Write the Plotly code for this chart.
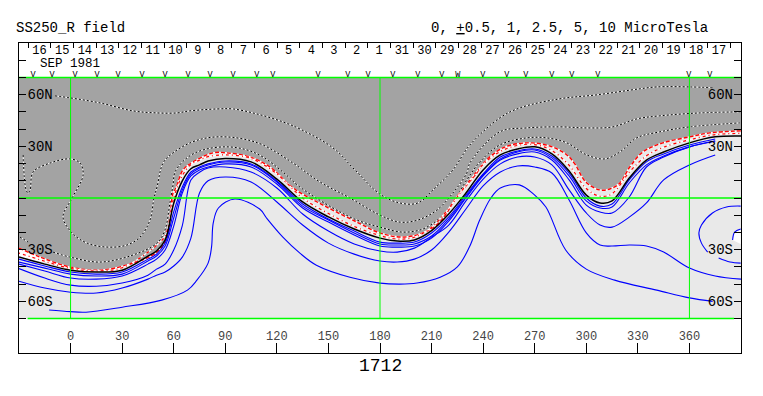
import plotly.graph_objects as go

MONO = "Liberation Mono"

grid_lon = [-30,-15,0,15,30,45,50,55,60,65,70,75,80,90,105,120,135,150,165,180,190,200,
            210,220,230,240,250,260,270,280,290,300,308,315,325,335,345,360,375,390]
neutral_lat = [-34.3,-38.4,-41.9,-43,-41.9,-33.7,-30.8,-24.4,-3,10,17,19.2,21.5,23,21,11,-2.3,-11,-18,-23.3,-25,-24.4,
               -19,-9.3,2.9,16.3,25,28.5,29.7,25.6,15.7,1.7,-2.9,-1.7,11.6,22,26.7,32,35.5,36]
blue1_lat = [-35.5,-39.5,-43,-44.2,-43,-35.5,-32.6,-26.2,-8.1,6.4,15.1,18,19.8,21.5,19.8,9.9,-3.5,-12.2,-19.2,-25.6,-26.2,-25.6,
             -20.3,-11,1.7,14,23.8,27.3,28.5,24.4,14.5,0,-4.7,-3.5,10.5,21,25.6,30.8,34.3,None]
blue2_lat = [-37.2,-40.7,-44.2,-45.3,-44.2,-36.6,-33.7,-27.9,-11.6,4.7,14,17.4,19.2,20.9,19.2,9.3,-4.7,-12.8,-20.3,-26.7,-27.3,-26.7,
             -22.1,-12.2,0.6,13.4,22.7,26.7,27.9,23.3,12.8,-1.7,-5.8,-5.2,8.7,19.2,24.4,29.7,33.1,None]
blue3_lat = [-38.4,-42.4,-46.5,-47.1,-45.3,-38.4,-35.5,-30.2,-16.3,2.9,12.8,16.3,18,19.8,18,8.1,-5.8,-14,-21.5,-27.9,-28.5,-27.9,
             -23.3,-13.4,0,12.8,22.1,25.6,26.7,22.1,10.5,-4.1,-8.1,-8.7,0.6,18,23.8,29.7,33.1,None]
blue4_lat = [-41,-46.5,-50.6,-51.2,-49.4,-44.8,-41.3,-38.4,-30.2,-16,10.5,15,17.4,18,15.1,5.8,-9.3,-19.2,-26.7,-30.8,-31.4,-29.1,
             -22.7,-15.7,-1.7,11,19.8,23.8,23.8,19.2,4.7,-8.7,-15.7,-16.9,-11.1,-2.9,10.5,19.2,25,None]
blue5_lat = [-48.3,-52.3,-54.7,-55.2,-52.3,-47.1,-44.8,-43,-39.5,-34.3,-23.3,2.9,10,12.2,9.3,-2.3,-15.7,-26.2,-32.6,-36.6,-37.2,-35.5,
             -30.2,-19.8,-6.4,7,15.1,18.6,18,14.5,-1.2,-20.3,-27.3,-27.9,-27.3,-27.9,-31.4,-40.7,-45.3,-47.1]
blue6_lon = [-12.5,0,9,30,53,68,73.5,80,82,83,86,95.6,110,114,123.5,133.4,143,162.5,180,191.6,201.5,215,225,232,238,244.5,250,261,270,276.5,288,300,316.5,341,360,373.5]
blue6_lat = [-65,-66,-66.3,-63.4,-59.3,-53.5,-47.7,-37.8,-28.5,-14.5,-5.8,-0.6,-6.4,-11.6,-22.7,-32,-39,-46,-49.4,-50,-49.4,-46,-40,-28.5,-12.8,0,5.8,7.6,1.7,-5.2,-30.2,-41.3,-47.7,-53.5,-58,-60]
loop_lon = [389.8,381.6,373.4,367,365.5,367,370.6]
loop_lat = [-4.7,-5.2,-8.7,-15.7,-20.3,-26.2,-31.4]
loop2_lon = [377,383.6,389.8]
loop2_lat = [-34.9,-37.2,-37.8]
loop3_lon = [389.8,386.3,385.1]
loop3_lat = [-18,-19.8,-24.4]

red_inner_lat = [-32,-36.7,-40.9,-42.3,-40.5,-31.5,-27.5,-22,0,13,19.5,22,24,25,23,14,0,-9,-16.5,-21.8,-23.8,-22.8,
                 -17,-6,7.5,19.5,27,30.5,31,27.5,19,5.5,1,2.5,15,24.5,29.5,33.8,36.8,37.5]
edge_lon = [-30,-17.7,-0.3,17.2,36.3,50.3,56.1,57.8,59.6,61.3,65.4,71.2,82.8,91,104.4,116,129.4,146.8,166.6,179.9,193.3,204.9,214.8,224.7,236.3,239.8,251.5,265.4,278.8,288.7,293.3,299.7,307.8,313.7,319.5,325.3,332.9,344.5,360.2,371.8,390]
edge_lat = [-29.1,-34.3,-40.1,-41.9,-37.8,-31.4,-22.7,-12.8,2.9,5.8,16.3,20.9,26.2,26.2,23.8,18,5.8,-4.1,-14,-20.3,-22.7,-20.3,-14,0.6,14.5,19.8,29.1,32,30.2,25,19.8,9.3,4.7,5.2,8.7,18,26.7,32,35.5,37.8,39]

dot1_lon = [-10.2,-0.3,17.2,36.3,50.3,54.9,57.8,59.6,60.8,67.7,77,91,102.6,111.9,123.5,133.4,152.6,166.6,179.9,193.3,204.9,214.8,222.4,230.5,238.1,249.7,265.4,277,288.7,300.3,310.8,319.5,329.3,342.7,360.2,389.2]
dot1_lat = [-31.4,-34.3,-37.2,-33.1,-26.2,-18.6,-2.9,7.6,15.1,23.3,27.9,29.7,27.9,23.8,15.1,6.4,-5.8,-12.8,-16.9,-19.8,-18,-11.6,-2.9,10.5,20.9,30.8,34.9,34.9,32,25,22.7,26.7,34.9,38.4,41.3,43.6]
dot2_lon = [-27.6,-25.9,-24.7,-23.5,-21.8,-11.9,-0.3,5.5,7.3,0.9,-4.4,0.9,9.6,21.2,32.8,40.4,46.2,48.5,50.3,53.8,59.6,69.5,79.4,89.8,100.3,111.9,129.4,145.1,162.5,179.9,191.6,202,213.1,222.4,230.5,232.3,249.7,265.4,284.6,300.3,315.4,329.3,342.7,366,389.2]
dot2_lat = [25,4.7,2.9,4.7,15.1,20.3,22.7,20.3,13.4,0,-11,-20.3,-26.2,-28.5,-27.3,-22.7,-12.8,0,6.4,20.3,26.2,32,34.9,35.5,34.3,30.8,20.3,9.3,0,-9.9,-14,-12.8,-7,2.9,14.5,20.3,38.4,40.7,41.3,40.7,41.3,45.9,47.7,49.4,50]
dot3_lon = [-9,0,17.2,36.3,50.3,61.9,69.5,85.2,94.5,108.4,123.5,134.6,152.6,165.4,179.9,191.6,202,210.8,222.4,232.3,249.7,261.3,284.6,306.1,331.1,341,360.2,373.5]
dot3_lat = [59.3,58.1,55.2,50.6,49.4,49.4,50.6,51.7,51.7,48.8,44.2,39.5,29.1,16.3,2.3,-2.9,-2.9,4.7,16.3,30.8,46.5,52.3,57.6,59.9,63.4,64.5,64.5,64]
dot4_lon = [-29.4,-24.7]
dot4_lat = [-22.7,-25.6]

band_lon = [-30,390]
band_north = [70,70]
band_south = [-70,-70]
patch1_lon = [-30,-17.7,-9,-17,-30]
patch1_lat = [-29.1,-34.3,-37.5,-37,-34.3]
patch2_lon = [389.8,386.3,385.1,389.8]
patch2_lat = [-18.6,-19.8,-24.4,-26.7]
meridians = [0,180,360]

obs_lon = [-21.8,-10.8,2.6,15.4,27.6,41.6,54.9,68.3,81.1,94.5,108.4,117.7,143.9,161.3,173,187.5,202,216,225.3,239.8,253.8,264.8,280,291.6,306.7,359.6,371.8]
obs_marks = ["V","V","V","V","V","V","V","V","V","V","V","V","V","V","V","V","V","V","W","V","V","V","V","V","V","V","V"]
day_ticks = [-24.7,-11.5,1.7,14.9,28,41.2,54.4,67.6,80.7,93.9,107.1,120.3,133.4,146.6,159.8,173,186.1,199.3,212.5,225.7,238.8,252,265.2,278.4,291.5,304.7,317.9,331.1,344.2,357.4,370.6,383.8]
day_lon = [-18.1,-4.9,8.3,21.4,34.6,47.8,61,74.1,87.3,100.5,113.7,126.8,140,153.2,166.4,179.5,192.7,205.9,219.1,232.2,245.4,258.6,271.8,284.9,298.1,311.3,324.5,337.6,350.8,364,377.2]
day_labels = ["16","15","14","13","12","11","10","9","8","7","6","5","4","3","2","1","31","30","29","28","27","26","25","24","23","22","21","20","19","18","17"]
lon_ticks = [0,30,60,90,120,150,180,210,240,270,300,330,360]
lat_ticks = [-80,-70,-60,-50,-40,-30,-20,-10,0,10,20,30,40,50,60,70,80]
lat_label_lon = [-17.7,-17.7,-17.7,-17.7,378,378,378,378]
lat_label_lat = [59.6,29.6,-30.4,-60.4,59.6,29.6,-30.4,-60.4]
lat_labels = ["60N","30N","30S","60S","60N","30N","30S","60S"]

GRAY = "#a3a3a3"
LIGHT = "#e9e9e9"
BLUE = "#0000ff"
GREEN = "#00ff00"

fig = go.Figure()

def line(x, y, color, width=1.0, dash=None, spline=True, **kw):
    fig.add_trace(go.Scatter(x=x, y=y, mode="lines", hoverinfo="skip",
        line=dict(color=color, width=width, dash=dash, shape="spline" if spline else "linear", smoothing=1.0), **kw))

# background bands
line(band_lon, band_north, "rgba(0,0,0,0)", spline=False)
line(band_lon, band_south, "rgba(0,0,0,0)", spline=False, fill="tonexty", fillcolor=LIGHT)
line(band_lon, band_north, "rgba(0,0,0,0)", spline=False)
line(edge_lon, edge_lat, "rgba(0,0,0,0)", fill="tonexty", fillcolor=GRAY)
for px, py in ((patch1_lon, patch1_lat), (patch2_lon, patch2_lat)):
    line(px, py, "rgba(0,0,0,0)", spline=False, fill="toself", fillcolor="#ffffff")

# negative (gray-side) contours: black dashes on white
for x, y in ((dot1_lon, dot1_lat), (dot2_lon, dot2_lat), (dot3_lon, dot3_lat), (dot4_lon, dot4_lat)):
    line(x, y, "#ffffff", 1.0)
    line(x, y, "#000000", 1.0, dash="2px,2px")

# red contours
line(edge_lon, edge_lat, "#ffffff", 1.4)
line(edge_lon, edge_lat, "#ff0000", 1.4, dash="4px,2px")
line(grid_lon, red_inner_lat, "#ffffff", 1.2)
line(grid_lon, red_inner_lat, "#ff0000", 1.2, dash="1px,3px,3px,3px")

# blue contours
for y in (blue1_lat, blue2_lat, blue3_lat, blue4_lat, blue5_lat):
    line(grid_lon, y, BLUE, 1.1)
line(blue6_lon, blue6_lat, BLUE, 1.1)
line(loop_lon, loop_lat, BLUE, 1.1)
line(loop2_lon, loop2_lat, BLUE, 1.1)
line(loop3_lon, loop3_lat, BLUE, 1.1)

# neutral line
line(grid_lon, neutral_lat, "#000000", 1.5)

# green reference lines
line(band_lon, [0, 0], GREEN, 1.5, spline=False)
line(band_lon, band_north, GREEN, 1.5, spline=False)
line([-25, 386], band_south, GREEN, 1.5, spline=False)
for m in meridians:
    line([m, m], [70, -70], GREEN, 1.0, spline=False)

# observation marks
fig.add_trace(go.Scatter(x=obs_lon, y=[71.5]*len(obs_lon), mode="text", text=obs_marks, hoverinfo="skip",
                         textfont=dict(family=MONO, size=8.5, color="#000000")))
# latitude labels
fig.add_trace(go.Scatter(x=lat_label_lon, y=lat_label_lat, mode="text", text=lat_labels, hoverinfo="skip",
                         textfont=dict(family=MONO, size=14, color="#000000")))
# day labels on the top axis
fig.add_trace(go.Scatter(x=day_lon, y=[85.5]*len(day_lon), xaxis="x2", mode="text", text=day_labels, hoverinfo="skip",
                         textfont=dict(family=MONO, size=12, color="#000000")))

axis_common = dict(range=[-30, 390], showgrid=False, zeroline=False, showline=True, linecolor="#000000", linewidth=1)
fig.update_layout(
    width=763, height=396, margin=dict(l=19, r=22, t=43, b=43),
    plot_bgcolor="#ffffff", paper_bgcolor="#ffffff", showlegend=False, hovermode=False,
    font=dict(family=MONO, color="#000000"),
    xaxis=dict(**axis_common, mirror=True, tickmode="array", tickvals=lon_ticks, ticktext=[str(v) for v in lon_ticks],
               ticks="inside", ticklen=10, tickcolor="#000000", ticklabelposition="inside",
               tickfont=dict(family=MONO, size=12)),
    xaxis2=dict(**axis_common, overlaying="x", side="top", tickmode="array", tickvals=day_ticks,
                ticks="inside", ticklen=5, tickcolor="#000000", showticklabels=False),
    yaxis=dict(range=[-90, 90], showgrid=False, zeroline=False, showline=True, linecolor="#000000", linewidth=1,
               mirror="ticks", tickmode="array", tickvals=lat_ticks, ticks="inside", ticklen=7,
               tickcolor="#000000", showticklabels=False),
    annotations=[
        dict(text="SS250_R field", xref="paper", yref="paper", x=-0.0075, y=1.048, xanchor="left", yanchor="middle",
             showarrow=False, font=dict(family=MONO, size=14)),
        dict(text="0, <u>+</u>0.5, 1, 2.5, 5, 10 MicroTesla", xref="paper", yref="paper", x=0.568, y=1.048,
             xanchor="left", yanchor="middle", showarrow=False, font=dict(family=MONO, size=14)),
        dict(text="SEP 1981", xref="paper", yref="paper", x=0.0265, y=0.933, xanchor="left", yanchor="middle",
             showarrow=False, font=dict(family=MONO, size=12.5)),
        dict(text="1712", xref="paper", yref="paper", x=0.5, y=-0.042, xanchor="center", yanchor="middle",
             showarrow=False, font=dict(family=MONO, size=18)),
        dict(text="&gt;", xref="x", yref="y", x=-31.5, y=7, showarrow=False, xanchor="center", yanchor="middle",
             font=dict(family=MONO, size=10, color=GREEN)),
    ],
)

fig.write_html("out.html", config={"displayModeBar": False}, post_script="document.body.style.margin='0';")
